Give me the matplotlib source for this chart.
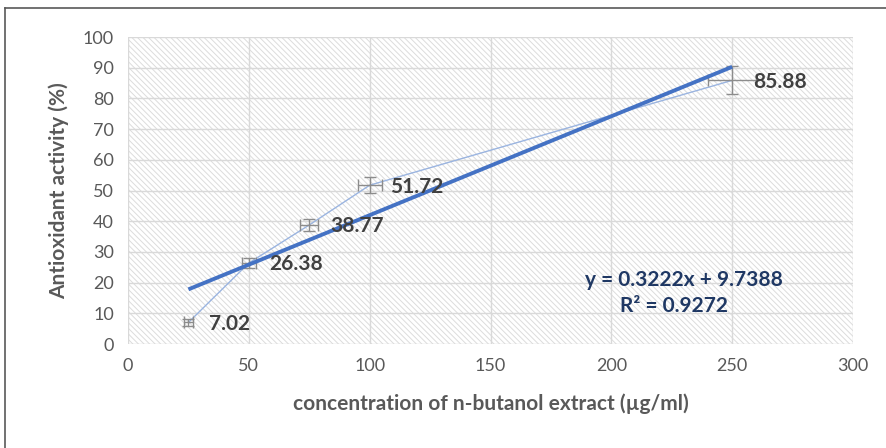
import matplotlib
matplotlib.use("Agg")
import matplotlib.pyplot as plt
import numpy as np
from matplotlib.patches import Rectangle
from matplotlib.lines import Line2D

plt.rcParams['font.family'] = ['Lato', 'DejaVu Sans']
plt.rcParams['hatch.linewidth'] = 0.7
plt.rcParams['hatch.color'] = '#dcdcdc'

conc = [25, 50, 75, 100, 250]
activity = [7.02, 26.38, 38.77, 51.72, 85.88]
x_err = [1.7, 3.0, 3.7, 5.0, 10.0]
y_err = [1.0, 1.5, 1.8, 2.6, 4.6]
labels = ["7.02", "26.38", "38.77", "51.72", "85.88"]
slope, intercept = 0.3222, 9.7388
x_ticks = [0, 50, 100, 150, 200, 250, 300]
y_ticks = [0, 10, 20, 30, 40, 50, 60, 70, 80, 90, 100]

fig = plt.figure(figsize=(8.86, 4.48), dpi=100)
ax = fig.add_axes([128/886, 1-344/448, 725/886, 307/448])

ax.set_xlim(0, 300)
ax.set_ylim(0, 100)
bg = Rectangle((0, 0), 300, 100, facecolor='white', hatch='\\\\\\\\\\\\', edgecolor='#dcdcdc',
               linewidth=0, zorder=0)
ax.add_patch(bg)
for s in ax.spines.values():
    s.set_visible(False)
ax.set_xticks(x_ticks)
ax.set_yticks(y_ticks)
ax.grid(True, color='#d9d9d9', linewidth=1.0, zorder=1)
ax.tick_params(length=0, labelsize=13, labelcolor='#595959', pad=10)

ax.plot(conc, activity, color='#9ab4e0', linewidth=1.0, zorder=3)
ax.errorbar(conc, activity, xerr=x_err, yerr=y_err, fmt='none', ecolor='#8c8c8c',
            elinewidth=1.0, capsize=4, capthick=1.0, zorder=4)

xt = np.array([conc[0], conc[-1]])
ax.plot(xt, slope * xt + intercept, color='#4472c4', linewidth=2.8,
        solid_capstyle='butt', zorder=5)

for x, y, t in zip(conc, activity, labels):
    ax.annotate(t, (x, y), xytext=(15, -1), textcoords='offset points',
                ha='left', va='center', fontsize=15, fontweight='bold',
                color='#404040', zorder=6)

ax.text(230, 20.8, f"y = {slope}x + {intercept}", ha='center', va='center',
        fontsize=15, fontweight='bold', color='#1f3864')
ax.text(226, 12.5, "R² = 0.9272", ha='center', va='center',
        fontsize=15, fontweight='bold', color='#1f3864')

ax.set_ylabel("Antioxidant activity (%)", fontsize=15, fontweight='bold',
              color='#595959', labelpad=10)
ax.set_xlabel("concentration of n-butanol extract (µg/ml)", fontsize=15,
              fontweight='bold', color='#595959', labelpad=14)

fig.add_artist(Line2D([5/886, 5/886], [0, 1-8/448], color='#595959', linewidth=1.2))
fig.add_artist(Line2D([5/886, 1], [1-8/448, 1-8/448], color='#595959', linewidth=1.2))

fig.savefig("out.png", dpi=100)
